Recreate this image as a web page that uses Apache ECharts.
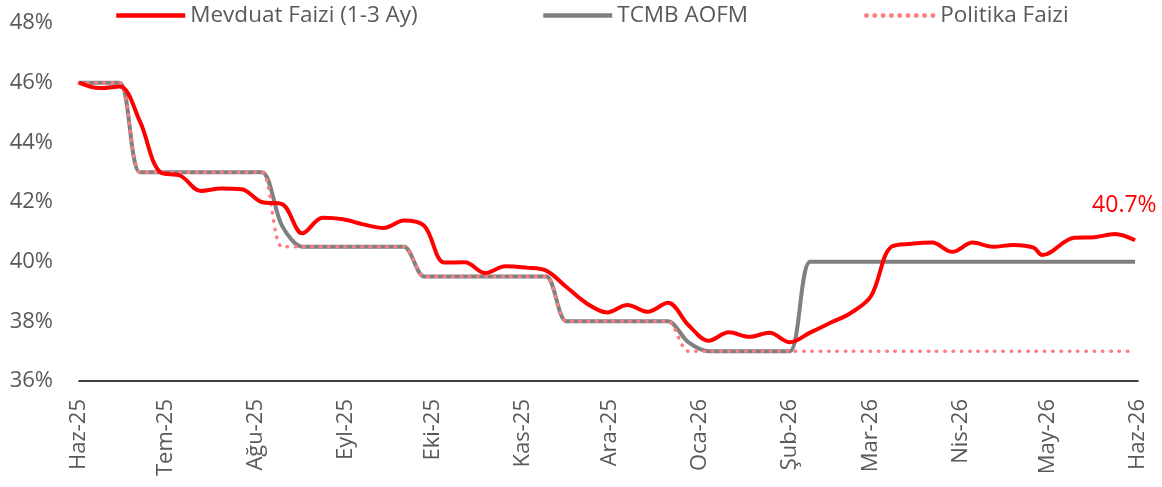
<!DOCTYPE html>
<html>
<head>
<meta charset="utf-8">
<script src="https://cdn.jsdelivr.net/npm/echarts@6/dist/echarts.min.js"></script>
<style>
  html, body { margin: 0; background: #fff; }
  #chart { width: 1162px; height: 487px; }
</style>
</head>
<body>
<div id="chart"></div>
<script>
// haftalik tarihler
var dates = [
  "2025-06-01", "2025-06-08", "2025-06-15", "2025-06-22", "2025-06-29",
  "2025-07-06", "2025-07-13", "2025-07-20", "2025-07-27",
  "2025-08-03", "2025-08-10", "2025-08-17", "2025-08-24", "2025-08-31",
  "2025-09-07", "2025-09-14", "2025-09-21", "2025-09-28",
  "2025-10-05", "2025-10-12", "2025-10-19", "2025-10-26",
  "2025-11-02", "2025-11-09", "2025-11-16", "2025-11-23", "2025-11-30",
  "2025-12-07", "2025-12-14", "2025-12-21", "2025-12-28",
  "2026-01-04", "2026-01-11", "2026-01-18", "2026-01-25",
  "2026-02-01", "2026-02-08", "2026-02-15", "2026-02-22",
  "2026-03-01", "2026-03-08", "2026-03-15", "2026-03-22", "2026-03-29",
  "2026-04-05", "2026-04-12", "2026-04-19", "2026-04-26", "2026-04-29",
  "2026-05-10", "2026-05-17", "2026-05-24", "2026-05-31"
];
var mevduat = [
  46.0, 45.82, 45.87, 44.7, 43.0, 42.88, 42.37, 42.45, 42.43, 42.0,
  41.93, 40.95, 41.47, 41.42, 41.25, 41.13, 41.38, 41.2, 39.97, 39.98,
  39.62, 39.85, 39.8, 39.7, 39.15, 38.6, 38.3, 38.55, 38.32, 38.62,
  37.88, 37.35, 37.63, 37.48, 37.62, 37.3, 37.62, 37.95, 38.28, 38.85,
  40.5, 40.6, 40.64, 40.33, 40.64, 40.5, 40.56, 40.47, 40.22, 40.8,
  40.82, 40.93, 40.72
];
var aofm = [
  46, 46, 46, 43, 43, 43, 43, 43, 43, 43,
  41.2, 40.5, 40.5, 40.5, 40.5, 40.5, 40.5, 39.5, 39.5, 39.5,
  39.5, 39.5, 39.5, 39.5, 38, 38, 38, 38, 38, 38,
  37.3, 37, 37, 37, 37, 37, 40, 40, 40, 40,
  40, 40, 40, 40, 40, 40, 40, 40, 40, 40,
  40, 40, 40
];
var politika = [
  46, 46, 46, 43, 43, 43, 43, 43, 43, 43,
  40.5, 40.5, 40.5, 40.5, 40.5, 40.5, 40.5, 39.5, 39.5, 39.5,
  39.5, 39.5, 39.5, 39.5, 38, 38, 38, 38, 38, 38,
  37, 37, 37, 37, 37, 37, 37, 37, 37, 37,
  37, 37, 37, 37, 37, 37, 37, 37, 37, 37,
  37, 37, 37
];
var ayAdlari = ["Oca", "Şub", "Mar", "Nis", "May", "Haz", "Tem", "Ağu", "Eyl", "Eki", "Kas", "Ara"];
var seriAdlari = ["Mevduat Faizi (1-3 Ay)", "TCMB AOFM", "Politika Faizi"];

var font = "Open Sans";
var textGray = "#595959";

function pairs(arr) {
  return arr.map(function (v, i) { return [dates[i], v]; });
}

var legendText = { color: textGray, fontFamily: font, fontSize: 22.5 };
function legendAt(x, name) {
  return {
    left: x, top: -1,
    data: [name],
    itemWidth: 69, itemHeight: 14, itemGap: 0,
    itemStyle: { opacity: 0 },
    lineStyle: { width: 4.5 },
    textStyle: legendText
  };
}

var myChart = echarts.init(document.getElementById("chart"));
var option = {
  animation: false,
  backgroundColor: "#fff",
  grid: { left: 79, right: 24, top: 23, bottom: 106 },
  legend: [
    legendAt(109, seriAdlari[0]),
    legendAt(536, seriAdlari[1]),
    legendAt(859, seriAdlari[2])
  ],
  xAxis: {
    type: "time",
    min: "2025-06-01",
    max: "2026-06-01",
    splitNumber: 12,
    axisLine: { lineStyle: { color: "#000", width: 1.5 } },
    axisTick: { show: false },
    splitLine: { show: false },
    axisLabel: {
      rotate: 90,
      margin: 18,
      color: textGray,
      fontFamily: font,
      fontSize: 22,
      showMinLabel: true,
      showMaxLabel: true,
      hideOverlap: false,
      formatter: function (val) {
        var d = new Date(val);
        return ayAdlari[d.getMonth()] + "-" + String(d.getFullYear()).slice(2);
      }
    }
  },
  yAxis: {
    type: "value",
    min: 36,
    max: 48,
    interval: 2,
    axisLine: { show: false },
    axisTick: { show: false },
    splitLine: { show: false },
    axisLabel: {
      margin: 26,
      color: textGray,
      fontFamily: font,
      fontSize: 22,
      formatter: "{value}%"
    }
  },
  series: [
    {
      name: seriAdlari[1],
      type: "line",
      data: pairs(aofm),
      smooth: 0.3,
      symbol: "none",
      z: 2,
      lineStyle: { color: "#808080", width: 4 },
      itemStyle: { color: "#808080" }
    },
    {
      name: seriAdlari[2],
      type: "line",
      data: pairs(politika),
      smooth: 0.3,
      symbol: "none",
      z: 3,
      lineStyle: { color: "#FF7C80", width: 3.5, type: [0.5, 7.8], cap: "round" },
      itemStyle: { color: "#FF7C80" }
    },
    {
      name: seriAdlari[0],
      type: "line",
      data: pairs(mevduat),
      smooth: 0.35,
      symbol: "none",
      z: 4,
      lineStyle: { color: "#FF0000", width: 4 },
      itemStyle: { color: "#FF0000" },
      endLabel: {
        show: true,
        distance: 0,
        offset: [-43, -35],
        color: "#FF0000",
        fontFamily: font,
        fontSize: 23,
        formatter: function (p) { return p.value[1].toFixed(1) + "%"; }
      }
    }
  ]
};
myChart.setOption(option);
</script>
</body>
</html>
